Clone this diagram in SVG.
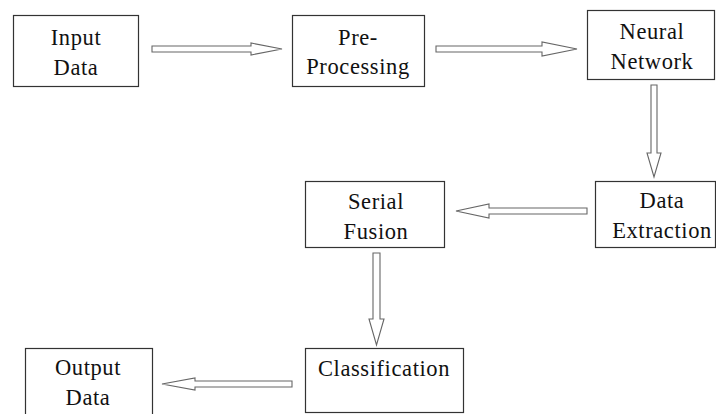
<svg xmlns="http://www.w3.org/2000/svg" width="716" height="414" viewBox="0 0 716 414">
<style>
.box{fill:#fff;stroke:#333;stroke-width:1.2}
.lbl{font-family:"Liberation Serif","Times New Roman",serif;font-size:22.5px;letter-spacing:0.6px;fill:#111;text-anchor:middle}
.arr{fill:#fff;stroke:#666;stroke-width:1.1;stroke-linejoin:miter}
</style>
<rect width="716" height="414" fill="#fff"/>
<g id="input-data"><rect class="box" x="13.5" y="15.5" width="125" height="71"/><text class="lbl" x="76" y="45">Input</text><text class="lbl" x="76" y="75">Data</text></g>
<g id="pre-processing"><rect class="box" x="292.5" y="15.5" width="132" height="71"/><text class="lbl" x="358" y="45">Pre-</text><text class="lbl" x="358" y="74">Processing</text></g>
<g id="neural-network"><rect class="box" x="587.5" y="10.5" width="127" height="69"/><text class="lbl" x="652" y="39">Neural</text><text class="lbl" x="652" y="69">Network</text></g>
<g id="data-extraction"><rect class="box" x="595.5" y="181.5" width="120" height="66"/><text class="lbl" x="662" y="208">Data</text><text class="lbl" x="662" y="238">Extraction</text></g>
<g id="serial-fusion"><rect class="box" x="305.5" y="181.5" width="139" height="66"/><text class="lbl" x="376" y="209">Serial</text><text class="lbl" x="376" y="239">Fusion</text></g>
<g id="classification"><rect class="box" x="305.5" y="348.5" width="158" height="64"/><text class="lbl" x="384" y="376">Classification</text></g>
<g id="output-data"><rect class="box" x="25.5" y="348.5" width="127" height="70"/><text class="lbl" x="88" y="375">Output</text><text class="lbl" x="88" y="405">Data</text></g>
<g id="connectors">
<polygon class="arr" points="152,46 251,46 251,43 282,49 251,55 251,52 152,52"/>
<polygon class="arr" points="436,46 542,46 542,42 577,49 542,56 542,52 436,52"/>
<polygon class="arr" points="651,85 657,85 657,153 661,153 654,177 647,153 651,153"/>
<polygon class="arr" points="587,208 489,208 489,204 456,211 489,218 489,214 587,214"/>
<polygon class="arr" points="373,253 380,253 380,319 384,319 376.5,345 369,319 373,319"/>
<polygon class="arr" points="292,381 195,381 195,378 162,384 195,390 195,387 292,387"/>
</g>
</svg>
